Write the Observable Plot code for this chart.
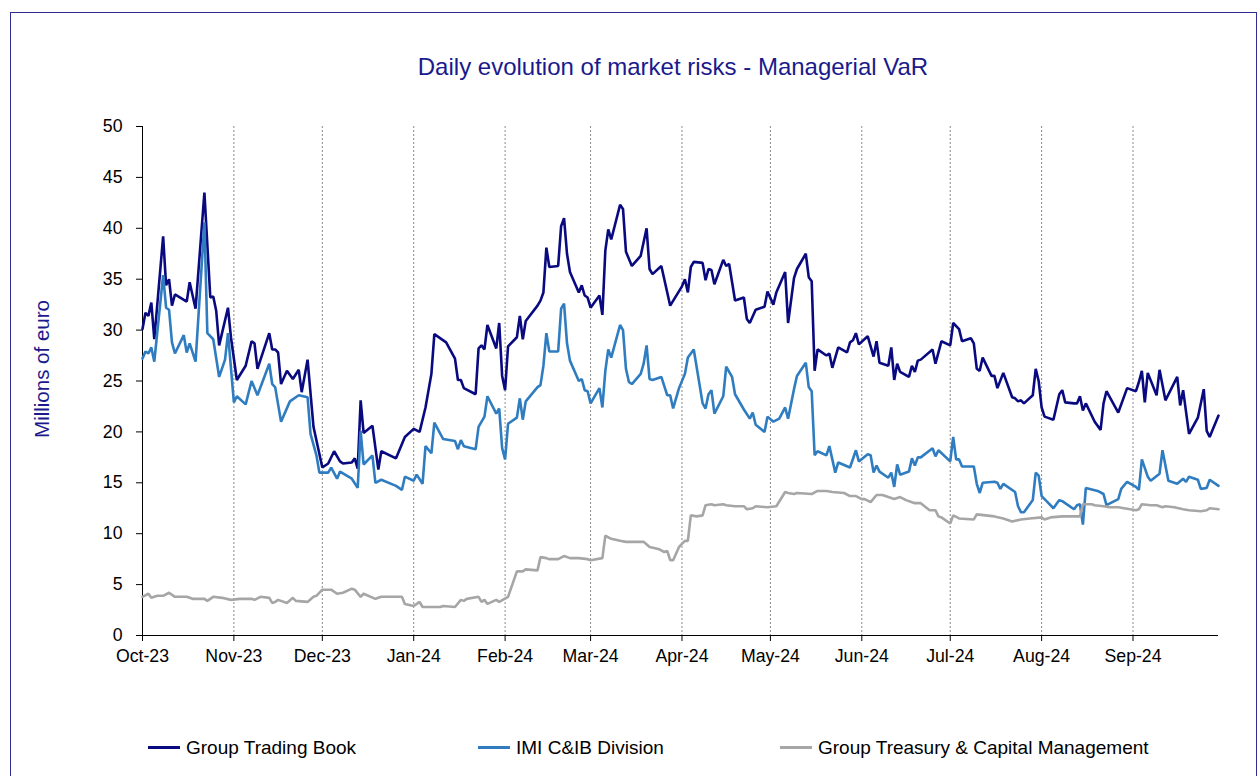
<!DOCTYPE html>
<html>
<head>
<meta charset="utf-8">
<script src="https://cdn.jsdelivr.net/npm/d3@7"></script>
<script src="https://cdn.jsdelivr.net/npm/@observablehq/plot@0.6"></script>
<style>
  html, body { margin: 0; padding: 0; background: #fff; }
  #wrap { position: relative; width: 1260px; height: 776px; overflow: hidden; font-family: "Liberation Sans", Arial, sans-serif; }
  #frame { position: absolute; left: 10px; top: 12px; width: 1247px; height: 800px; border: 1px solid #2e2e8f; box-sizing: border-box; }
  #chart { position: absolute; left: 0; top: 0; }
  #title { position: absolute; left: 173px; width: 1000px; top: 55px; text-align: center; font-size: 24px; line-height: 1; color: #1a1a8c; }
  #ylabel { position: absolute; left: 42px; top: 369px; transform: translate(-50%, -50%) rotate(-90deg); font-size: 20.5px; line-height: 1; color: #1a1a8c; white-space: nowrap; }
  .leg { position: absolute; top: 738px; font-size: 19px; line-height: 1; color: #000; white-space: nowrap; }
  .leg .sw { position: absolute; left: 0; top: 8px; width: 32px; height: 3px; }
  .leg .tx { position: absolute; left: 38px; top: 0; }
</style>
</head>
<body>
<div id="wrap">
  <div id="frame"></div>
  <div id="chart"></div>
  <div id="title"></div>
  <div id="ylabel"></div>
  <div id="legend"></div>
</div>
<script>
// ---- Data ----
const chartTitle = "Daily evolution of market risks - Managerial VaR";
const yAxisLabel = "Millions of euro";
const seriesNames = ["Group Trading Book", "IMI C&IB Division", "Group Treasury & Capital Management"];
const seriesColors = ["#0a0a80", "#2f7dc0", "#a6a6a6"];
const yTicks = [0, 5, 10, 15, 20, 25, 30, 35, 40, 45, 50];
const monthTicks = ["2023-10-01","2023-11-01","2023-12-01","2024-01-01","2024-02-01","2024-03-01","2024-04-01","2024-05-01","2024-06-01","2024-07-01","2024-08-01","2024-09-01"];
const xDomain = ["2023-10-01", "2024-09-30"];

const tradingBook = [
["2023-10-01",30.1],["2023-10-02",31.7],["2023-10-03",31.4],["2023-10-04",32.7],["2023-10-05",29.1],["2023-10-08",39.2],["2023-10-09",34.4],["2023-10-10",35.0],["2023-10-11",32.4],["2023-10-12",33.5],["2023-10-16",32.8],["2023-10-17",34.7],["2023-10-19",32.1],["2023-10-22",43.5],["2023-10-24",33.2],["2023-10-25",33.3],["2023-10-26",31.9],["2023-10-27",28.5],["2023-10-30",32.2],["2023-10-31",29.3],
["2023-11-02",25.1],["2023-11-05",26.5],["2023-11-07",28.9],["2023-11-08",28.7],["2023-11-09",26.2],["2023-11-13",29.7],["2023-11-14",28.1],["2023-11-15",28.1],["2023-11-16",27.8],["2023-11-17",24.7],["2023-11-19",26.0],["2023-11-21",25.2],["2023-11-23",26.1],["2023-11-24",23.9],["2023-11-26",27.1],["2023-11-28",20.5],
["2023-12-01",16.5],["2023-12-03",16.9],["2023-12-05",18.1],["2023-12-07",17.1],["2023-12-08",16.9],["2023-12-11",17.0],["2023-12-12",17.4],["2023-12-13",16.4],["2023-12-14",23.1],["2023-12-15",19.9],["2023-12-18",20.6],["2023-12-20",16.3],["2023-12-21",18.1],["2023-12-26",17.4],["2023-12-29",19.5],
["2024-01-01",20.3],["2024-01-03",20.0],["2024-01-05",22.4],["2024-01-07",25.7],["2024-01-08",29.6],["2024-01-12",28.8],["2024-01-15",27.2],["2024-01-16",25.1],["2024-01-17",25.1],["2024-01-18",24.3],["2024-01-22",23.7],["2024-01-23",28.2],["2024-01-24",28.5],["2024-01-25",28.1],["2024-01-26",30.5],["2024-01-29",28.2],["2024-01-30",30.7],["2024-01-31",25.5],
["2024-02-01",24.1],["2024-02-02",28.4],["2024-02-05",29.3],["2024-02-06",31.4],["2024-02-07",29.1],["2024-02-08",30.9],["2024-02-12",32.4],["2024-02-13",32.9],["2024-02-14",33.7],["2024-02-15",38.1],["2024-02-16",36.2],["2024-02-19",36.3],["2024-02-20",40.2],["2024-02-21",41.0],["2024-02-22",37.5],["2024-02-23",35.7],["2024-02-26",33.7],["2024-02-27",34.4],["2024-02-28",33.4],["2024-02-29",33.2],
["2024-03-01",32.2],["2024-03-04",33.4],["2024-03-05",31.5],["2024-03-06",37.8],["2024-03-07",39.9],["2024-03-08",38.9],["2024-03-11",42.3],["2024-03-12",41.9],["2024-03-13",37.7],["2024-03-15",36.3],["2024-03-18",37.3],["2024-03-20",40.0],["2024-03-21",36.0],["2024-03-22",35.5],["2024-03-25",36.3],["2024-03-28",32.4],
["2024-04-01",34.3],["2024-04-02",35.0],["2024-04-03",33.7],["2024-04-04",36.2],["2024-04-05",36.7],["2024-04-08",36.6],["2024-04-09",34.9],["2024-04-10",36.0],["2024-04-11",35.9],["2024-04-12",34.5],["2024-04-15",36.9],["2024-04-16",36.3],["2024-04-17",36.5],["2024-04-19",32.9],["2024-04-22",33.2],["2024-04-23",31.1],["2024-04-24",30.7],["2024-04-26",32.0],["2024-04-29",32.3],["2024-04-30",33.8],
["2024-05-02",32.5],["2024-05-03",33.7],["2024-05-06",35.7],["2024-05-07",30.7],["2024-05-09",35.1],["2024-05-10",36.0],["2024-05-13",37.5],["2024-05-14",35.2],["2024-05-15",34.8],["2024-05-16",26.0],["2024-05-17",28.1],["2024-05-20",27.5],["2024-05-21",27.7],["2024-05-22",26.3],["2024-05-24",28.3],["2024-05-27",27.8],["2024-05-28",28.8],["2024-05-29",29.0],["2024-05-30",29.7],["2024-05-31",28.6],
["2024-06-03",29.4],["2024-06-05",27.4],["2024-06-06",28.9],["2024-06-07",26.8],["2024-06-10",26.5],["2024-06-11",28.3],["2024-06-12",25.1],["2024-06-13",26.7],["2024-06-14",25.9],["2024-06-17",25.4],["2024-06-18",26.5],["2024-06-19",25.9],["2024-06-20",27.0],["2024-06-21",27.1],["2024-06-25",28.1],["2024-06-26",26.7],["2024-06-28",28.9],
["2024-07-01",28.5],["2024-07-02",30.7],["2024-07-04",30.1],["2024-07-05",28.9],["2024-07-08",29.2],["2024-07-09",28.7],["2024-07-10",26.2],["2024-07-11",26.0],["2024-07-12",27.3],["2024-07-15",25.5],["2024-07-16",25.5],["2024-07-17",24.3],["2024-07-19",25.8],["2024-07-22",23.4],["2024-07-23",23.3],["2024-07-24",23.0],["2024-07-25",23.1],["2024-07-26",22.8],["2024-07-29",23.6],["2024-07-30",26.2],["2024-07-31",25.0],
["2024-08-01",22.4],["2024-08-02",21.5],["2024-08-05",21.2],["2024-08-07",23.7],["2024-08-08",24.1],["2024-08-09",22.9],["2024-08-12",22.8],["2024-08-13",22.8],["2024-08-14",23.5],["2024-08-15",22.1],["2024-08-16",22.8],["2024-08-19",21.0],["2024-08-21",20.2],["2024-08-22",22.8],["2024-08-23",24.0],["2024-08-27",21.9],["2024-08-30",24.3],
["2024-09-02",24.0],["2024-09-03",24.9],["2024-09-04",26.0],["2024-09-05",22.9],["2024-09-06",25.8],["2024-09-09",23.6],["2024-09-10",26.1],["2024-09-12",23.1],["2024-09-16",25.4],["2024-09-17",22.6],["2024-09-18",24.1],["2024-09-20",19.8],["2024-09-23",21.4],["2024-09-25",24.2],["2024-09-26",20.1],["2024-09-27",19.5],["2024-09-30",21.6]
];

const imiCib = [
["2023-10-01",27.2],["2023-10-02",27.9],["2023-10-03",27.7],["2023-10-04",28.3],["2023-10-05",26.9],["2023-10-08",35.4],["2023-10-09",32.2],["2023-10-10",32.0],["2023-10-11",28.8],["2023-10-12",27.7],["2023-10-15",29.5],["2023-10-16",27.8],["2023-10-17",28.7],["2023-10-19",26.9],["2023-10-22",40.6],["2023-10-23",29.7],["2023-10-25",29.1],["2023-10-27",25.4],["2023-10-29",27.1],["2023-10-30",29.7],
["2023-11-01",22.9],["2023-11-02",23.5],["2023-11-05",22.7],["2023-11-07",25.0],["2023-11-09",23.6],["2023-11-13",26.7],["2023-11-14",24.7],["2023-11-15",24.4],["2023-11-17",21.0],["2023-11-20",23.0],["2023-11-23",23.6],["2023-11-26",23.4],["2023-11-27",19.8],["2023-11-29",17.7],["2023-11-30",16.0],
["2023-12-03",16.0],["2023-12-04",16.5],["2023-12-06",15.4],["2023-12-07",16.1],["2023-12-11",15.4],["2023-12-13",14.5],["2023-12-14",20.1],["2023-12-15",16.8],["2023-12-18",17.7],["2023-12-19",15.0],["2023-12-21",15.3],["2023-12-26",14.7],["2023-12-28",14.3],["2023-12-29",15.6],
["2024-01-01",15.2],["2024-01-02",15.8],["2024-01-04",14.9],["2024-01-05",18.6],["2024-01-07",17.9],["2024-01-08",20.9],["2024-01-11",19.3],["2024-01-15",19.1],["2024-01-16",18.3],["2024-01-17",19.2],["2024-01-18",18.6],["2024-01-22",18.3],["2024-01-23",20.5],["2024-01-25",21.5],["2024-01-26",23.5],["2024-01-29",21.8],["2024-01-30",22.3],["2024-01-31",18.4],
["2024-02-01",17.3],["2024-02-02",20.8],["2024-02-05",21.4],["2024-02-06",23.3],["2024-02-07",21.2],["2024-02-08",23.0],["2024-02-12",24.4],["2024-02-13",24.6],["2024-02-14",26.5],["2024-02-15",29.7],["2024-02-16",27.9],["2024-02-19",27.9],["2024-02-20",32.1],["2024-02-21",32.6],["2024-02-22",28.7],["2024-02-23",27.0],["2024-02-26",25.0],["2024-02-27",25.2],["2024-02-28",24.1],["2024-02-29",24.0],
["2024-03-01",22.8],["2024-03-04",24.3],["2024-03-05",22.4],["2024-03-06",26.0],["2024-03-07",28.1],["2024-03-08",27.3],["2024-03-11",30.5],["2024-03-12",30.0],["2024-03-13",26.2],["2024-03-14",24.9],["2024-03-15",24.7],["2024-03-18",25.7],["2024-03-19",26.7],["2024-03-20",28.5],["2024-03-21",25.2],["2024-03-22",25.1],["2024-03-25",25.4],["2024-03-27",23.6],["2024-03-28",23.6],["2024-03-29",22.3],["2024-03-31",24.3],
["2024-04-02",25.7],["2024-04-03",27.3],["2024-04-05",28.1],["2024-04-08",22.8],["2024-04-09",22.3],["2024-04-10",23.7],["2024-04-11",24.1],["2024-04-12",21.8],["2024-04-15",23.5],["2024-04-16",26.4],["2024-04-18",25.4],["2024-04-19",23.7],["2024-04-22",22.2],["2024-04-24",21.3],["2024-04-25",21.9],["2024-04-26",20.7],["2024-04-29",20.0],["2024-04-30",21.5],
["2024-05-02",21.0],["2024-05-04",21.3],["2024-05-06",22.4],["2024-05-07",21.3],["2024-05-09",24.2],["2024-05-10",25.5],["2024-05-13",26.8],["2024-05-14",24.4],["2024-05-15",24.0],["2024-05-16",17.7],["2024-05-17",18.1],["2024-05-20",17.7],["2024-05-21",18.6],["2024-05-23",16.0],["2024-05-24",17.0],["2024-05-28",16.5],["2024-05-30",18.2],["2024-05-31",17.1],
["2024-06-03",17.8],["2024-06-04",17.7],["2024-06-05",16.0],["2024-06-06",16.7],["2024-06-07",16.1],["2024-06-10",15.5],["2024-06-11",16.0],["2024-06-12",14.6],["2024-06-13",16.8],["2024-06-14",15.8],["2024-06-17",16.1],["2024-06-18",17.4],["2024-06-19",16.7],["2024-06-20",17.5],["2024-06-21",17.5],["2024-06-25",18.4],["2024-06-26",17.6],["2024-06-27",18.2],
["2024-07-01",17.1],["2024-07-02",19.5],["2024-07-03",17.3],["2024-07-04",17.3],["2024-07-05",16.6],["2024-07-09",16.6],["2024-07-10",14.9],["2024-07-11",14.0],["2024-07-12",15.0],["2024-07-16",15.1],["2024-07-17",15.0],["2024-07-18",14.4],["2024-07-19",14.9],["2024-07-23",14.1],["2024-07-24",12.7],["2024-07-25",12.1],["2024-07-26",12.1],["2024-07-29",13.3],["2024-07-30",16.0],["2024-07-31",15.7],
["2024-08-01",13.7],["2024-08-03",13.1],["2024-08-05",12.5],["2024-08-07",13.3],["2024-08-08",13.2],["2024-08-12",12.4],["2024-08-13",12.8],["2024-08-14",12.9],["2024-08-15",10.9],["2024-08-16",14.5],["2024-08-20",14.2],["2024-08-22",13.9],["2024-08-23",12.8],["2024-08-27",13.4],["2024-08-28",14.4],["2024-08-30",15.1],
["2024-09-02",14.6],["2024-09-03",14.3],["2024-09-04",17.3],["2024-09-06",15.6],["2024-09-07",15.2],["2024-09-10",15.9],["2024-09-11",18.2],["2024-09-13",15.2],["2024-09-16",14.9],["2024-09-18",15.4],["2024-09-19",15.1],["2024-09-20",15.6],["2024-09-23",15.3],["2024-09-24",14.4],["2024-09-26",14.5],["2024-09-27",15.3],["2024-09-30",14.7]
];

const treasury = [
["2023-10-01",3.8],["2023-10-03",4.1],["2023-10-04",3.7],["2023-10-06",3.9],["2023-10-08",3.9],["2023-10-10",4.2],["2023-10-12",3.8],["2023-10-16",3.8],["2023-10-18",3.6],["2023-10-22",3.6],["2023-10-23",3.4],["2023-10-25",3.8],["2023-10-28",3.7],["2023-10-31",3.5],
["2023-11-03",3.6],["2023-11-07",3.6],["2023-11-08",3.5],["2023-11-10",3.8],["2023-11-13",3.7],["2023-11-14",3.2],["2023-11-15",3.3],["2023-11-16",3.5],["2023-11-19",3.2],["2023-11-21",3.7],["2023-11-22",3.4],["2023-11-26",3.3],["2023-11-28",3.8],["2023-11-29",3.9],
["2023-12-01",4.5],["2023-12-04",4.5],["2023-12-06",4.1],["2023-12-08",4.2],["2023-12-11",4.6],["2023-12-12",4.5],["2023-12-14",3.8],["2023-12-15",4.1],["2023-12-19",3.6],["2023-12-21",3.8],["2023-12-28",3.8],["2023-12-29",3.1],
["2024-01-01",2.9],["2024-01-03",3.3],["2024-01-04",2.8],["2024-01-10",2.8],["2024-01-11",2.9],["2024-01-15",2.8],["2024-01-17",3.5],["2024-01-18",3.4],["2024-01-19",3.6],["2024-01-23",3.8],["2024-01-24",3.3],["2024-01-25",3.5],["2024-01-26",3.1],["2024-01-29",3.5],["2024-01-30",3.3],
["2024-02-02",3.8],["2024-02-05",6.3],["2024-02-07",6.3],["2024-02-08",6.5],["2024-02-12",6.4],["2024-02-13",7.7],["2024-02-15",7.6],["2024-02-16",7.5],["2024-02-19",7.5],["2024-02-21",7.8],["2024-02-23",7.6],["2024-02-26",7.6],["2024-02-29",7.5],
["2024-03-01",7.4],["2024-03-05",7.6],["2024-03-06",9.8],["2024-03-08",9.5],["2024-03-11",9.3],["2024-03-13",9.2],["2024-03-19",9.2],["2024-03-21",8.7],["2024-03-24",8.5],["2024-03-26",8.2],["2024-03-27",8.3],["2024-03-28",7.4],["2024-03-29",7.4],["2024-03-31",8.7],
["2024-04-02",9.3],["2024-04-03",9.3],["2024-04-04",11.8],["2024-04-06",11.7],["2024-04-08",11.8],["2024-04-09",12.8],["2024-04-11",12.9],["2024-04-12",12.8],["2024-04-15",12.9],["2024-04-16",12.8],["2024-04-19",12.7],["2024-04-22",12.7],["2024-04-23",12.4],["2024-04-25",12.5],["2024-04-26",12.7],["2024-04-30",12.6],
["2024-05-03",12.7],["2024-05-06",14.1],["2024-05-07",14.0],["2024-05-09",13.9],["2024-05-10",14.0],["2024-05-15",13.9],["2024-05-17",14.2],["2024-05-20",14.2],["2024-05-22",14.1],["2024-05-26",14.0],["2024-05-28",13.7],["2024-05-30",13.7],
["2024-06-01",13.4],["2024-06-02",13.4],["2024-06-04",13.1],["2024-06-06",13.8],["2024-06-08",13.8],["2024-06-10",13.6],["2024-06-12",13.4],["2024-06-14",13.6],["2024-06-16",13.3],["2024-06-19",13.0],["2024-06-21",13.0],["2024-06-24",12.3],["2024-06-26",12.3],["2024-06-27",11.7],["2024-06-28",11.6],
["2024-07-01",11.0],["2024-07-02",11.8],["2024-07-04",11.5],["2024-07-09",11.4],["2024-07-10",11.9],["2024-07-16",11.7],["2024-07-19",11.5],["2024-07-22",11.2],["2024-07-25",11.4],["2024-07-28",11.5],
["2024-08-01",11.6],["2024-08-02",11.4],["2024-08-04",11.6],["2024-08-08",11.7],["2024-08-11",11.7],["2024-08-14",11.7],["2024-08-15",12.9],["2024-08-18",12.9],["2024-08-19",12.8],["2024-08-22",12.7],["2024-08-24",12.6],["2024-08-27",12.6],["2024-08-29",12.5],
["2024-09-02",12.3],["2024-09-03",12.4],["2024-09-04",12.9],["2024-09-07",12.8],["2024-09-09",12.8],["2024-09-11",12.6],["2024-09-12",12.7],["2024-09-15",12.6],["2024-09-18",12.4],["2024-09-20",12.3],["2024-09-24",12.2],["2024-09-26",12.3],["2024-09-27",12.5],["2024-09-30",12.4]
];

// ---- Build ----
const parse = d3.utcParse("%Y-%m-%d");
const toRows = (arr, name) => arr.map(([d, v]) => ({date: parse(d), value: v, series: name}));
const seriesData = [tradingBook, imiCib, treasury].map((arr, i) => toRows(arr, seriesNames[i]));
const ticks = monthTicks.map(parse);
const domain = xDomain.map(parse);

const chart = Plot.plot({
  width: 1260,
  height: 680,
  marginLeft: 142,
  marginRight: 42,
  marginTop: 126,
  marginBottom: 45,
  style: {fontFamily: "'Liberation Sans', Arial, sans-serif", fontSize: "17.7px", color: "#000", background: "transparent", overflow: "visible"},
  x: {type: "utc", domain},
  y: {domain: [0, 50]},
  color: {domain: seriesNames, range: seriesColors},
  marks: [
    Plot.ruleX(ticks.slice(1), {stroke: "#8a8a8a", strokeWidth: 1, strokeDasharray: "2,2"}),
    Plot.axisY({ticks: yTicks, tickSize: 6, tickPadding: 14, label: null, stroke: "#000", strokeOpacity: 1}),
    Plot.axisX({ticks, tickSize: 6, tickPadding: 8, tickFormat: d3.utcFormat("%b-%y"), label: null, stroke: "#000", strokeOpacity: 1}),
    Plot.ruleY([0], {stroke: "#000", strokeWidth: 1}),
    Plot.ruleX([domain[0]], {stroke: "#000", strokeWidth: 1}),
    ...seriesData.map(rows => Plot.line(rows, {x: "date", y: "value", stroke: "series", strokeWidth: 2.6, strokeLinejoin: "miter", curve: "linear"}))
  ]
});
document.getElementById("chart").appendChild(chart);

document.getElementById("title").textContent = chartTitle;
document.getElementById("ylabel").textContent = yAxisLabel;

const legendLefts = [148, 478, 780];
const legend = document.getElementById("legend");
seriesNames.forEach((name, i) => {
  const item = document.createElement("div");
  item.className = "leg";
  item.style.left = legendLefts[i] + "px";
  const sw = document.createElement("div");
  sw.className = "sw";
  sw.style.background = seriesColors[i];
  const tx = document.createElement("div");
  tx.className = "tx";
  tx.textContent = name;
  item.appendChild(sw);
  item.appendChild(tx);
  legend.appendChild(item);
});
</script>
</body>
</html>
